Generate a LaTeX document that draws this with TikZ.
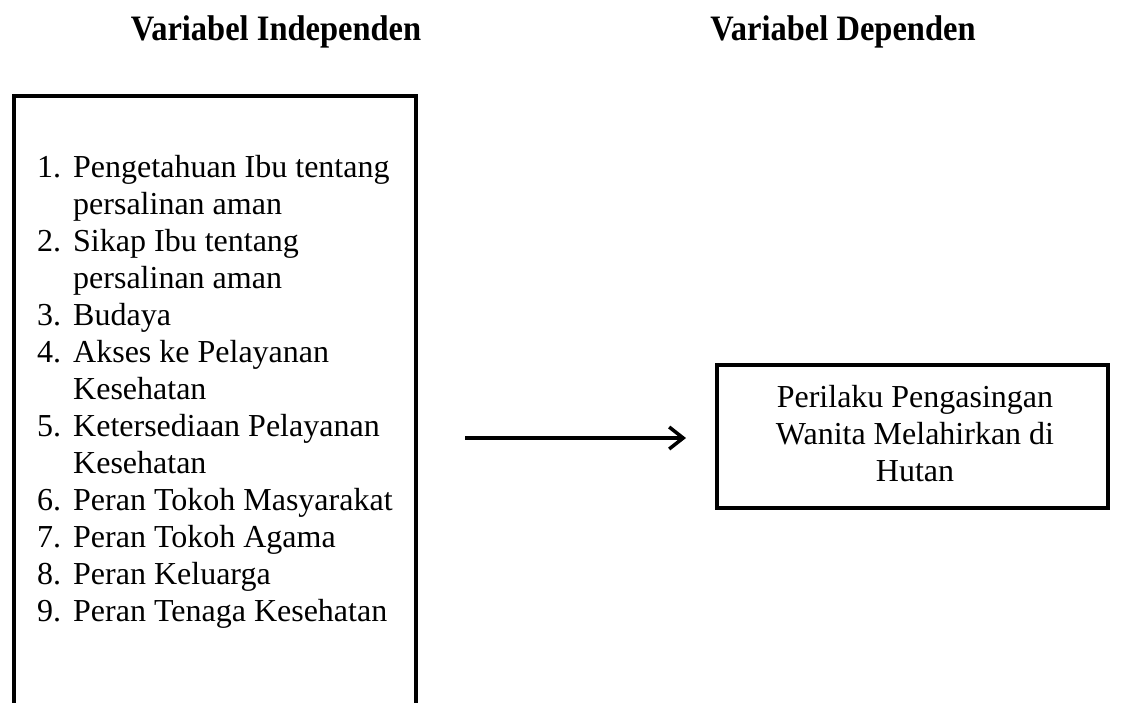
\documentclass[tikz,border=0pt]{standalone}
\usepackage{fontspec}
\setmainfont{Liberation Serif}
\usetikzlibrary{arrows.meta}
\begin{document}
\begin{tikzpicture}[x=1pt,y=-1pt,
  box/.style={draw=black,line width=4.5pt},
  head/.style={font=\fontsize{32.5}{37}\selectfont\bfseries,inner sep=0pt,anchor=base},
  body/.style={font=\fontsize{32}{37}\selectfont,inner sep=0pt},
  conn/.style={line width=3.5pt,-{Straight Barb[length=14pt,width=22pt,line width=3.5pt]}}]
\useasboundingbox (0,0) rectangle (1123,702);
\begin{scope}
\clip (0,0) rectangle (1123,702);
\draw[box] (14,96) rectangle (416,730);
\end{scope}
\node[head] (h1) at (276,40) {\scalebox{1}[1.1]{Variabel Independen}};
\node[head] (h2) at (843,40) {\scalebox{1}[1.1]{Variabel Dependen}};
\node[body,anchor=base west] (lst) at (37,177) {%
\begin{tabular}[t]{@{}l@{\hspace{12pt}}l@{}}
1. & Pengetahuan Ibu tentang\\
   & persalinan aman\\
2. & Sikap Ibu tentang\\
   & persalinan aman\\
3. & Budaya\\
4. & Akses ke Pelayanan\\
   & Kesehatan\\
5. & Ketersediaan Pelayanan\\
   & Kesehatan\\
6. & Peran Tokoh Masyarakat\\
7. & Peran Tokoh Agama\\
8. & Peran Keluarga\\
9. & Peran Tenaga Kesehatan
\end{tabular}};
\node[box,minimum width=391pt,minimum height=143pt,inner sep=0pt] (dep) at (912.5,436.5) {};
\node[body,anchor=base] (deptxt) at (915,407) {%
\begin{tabular}[t]{@{}c@{}}
Perilaku Pengasingan\\
Wanita Melahirkan di\\
Hutan
\end{tabular}};
\coordinate (a1) at (465,438);
\coordinate (a2) at (686,438);
\draw[conn] (a1) -- (a2);
\end{tikzpicture}
\end{document}
